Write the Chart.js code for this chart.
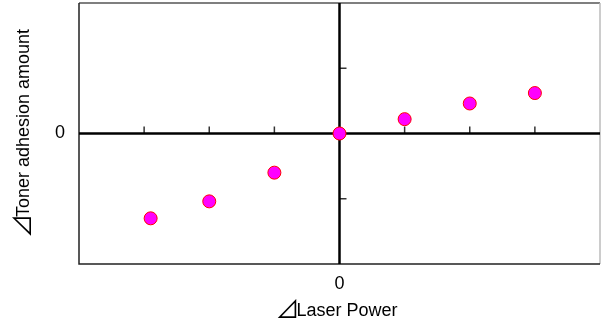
<!DOCTYPE html>
<html>
<head>
<meta charset="utf-8">
<script src="https://cdn.jsdelivr.net/npm/chart.js@4"></script>
<style>
  html, body { margin: 0; padding: 0; background: #fff; }
  #wrap { width: 601px; height: 323px; }
</style>
</head>
<body>
<div id="wrap"><canvas id="c" width="601" height="323"></canvas></div>
<script>
// Data
const laserPower = [-2.9, -2.0, -1.0, 0, 1.0, 2.0, 3.0];
const tonerAdhesion = [-1.30, -1.04, -0.60, 0, 0.22, 0.46, 0.62];
const xMarkTicks = [-3, -2, -1, 1, 2, 3];
const yMarkTicks = [-1, 1];
const deltaSign = '⊿';
const xLabel = 'Laser Power';
const yLabel = 'Toner adhesion amount';

const FONT = { family: '"Liberation Sans", Arial, sans-serif', size: 18 };
const TXT = '18px "Liberation Sans", Arial, sans-serif';
const SYM = '24px "Noto Sans CJK JP", "DejaVu Sans", sans-serif';

function drawTitle(ctx, cx, baseline, rot, sym, text) {
  ctx.save();
  ctx.translate(cx, baseline);
  ctx.rotate(rot);
  ctx.fillStyle = '#000';
  ctx.textBaseline = 'alphabetic';
  ctx.textAlign = 'left';
  ctx.font = SYM;
  const w1 = ctx.measureText(sym).width - 3;
  ctx.font = TXT;
  const w2 = ctx.measureText(text).width;
  const start = -(w1 + w2) / 2;
  ctx.font = SYM;
  ctx.fillText(sym, start, 2);
  ctx.font = TXT;
  ctx.fillText(text, start + w1, 0);
  ctx.restore();
}

const axesPlugin = {
  id: 'zeroAxes',
  beforeDatasetsDraw(chart) {
    const { ctx, chartArea: a, scales: { x, y } } = chart;
    ctx.save();
    // frame
    ctx.lineWidth = 1.5;
    ctx.strokeStyle = '#555';
    ctx.beginPath(); ctx.moveTo(a.left, a.top); ctx.lineTo(a.right, a.top); ctx.stroke();
    ctx.strokeStyle = '#bbb';
    ctx.beginPath(); ctx.moveTo(a.right, a.top); ctx.lineTo(a.right, a.bottom); ctx.stroke();
    ctx.strokeStyle = '#222';
    ctx.beginPath(); ctx.moveTo(a.left, a.top); ctx.lineTo(a.left, a.bottom); ctx.lineTo(a.right, a.bottom); ctx.stroke();

    const x0 = x.getPixelForValue(0);
    const y0 = y.getPixelForValue(0);
    // tick marks
    ctx.strokeStyle = '#333';
    ctx.lineWidth = 1.5;
    xMarkTicks.forEach(v => {
      const px = x.getPixelForValue(v);
      ctx.beginPath(); ctx.moveTo(px, y0); ctx.lineTo(px, y0 - 7); ctx.stroke();
    });
    yMarkTicks.forEach(v => {
      const py = y.getPixelForValue(v);
      ctx.beginPath(); ctx.moveTo(x0, py); ctx.lineTo(x0 + 7, py); ctx.stroke();
    });
    // zero axes
    ctx.strokeStyle = '#000';
    ctx.lineWidth = 2.5;
    ctx.beginPath(); ctx.moveTo(a.left, y0); ctx.lineTo(a.right, y0); ctx.stroke();
    ctx.beginPath(); ctx.moveTo(x0, a.top); ctx.lineTo(x0, a.bottom); ctx.stroke();
    ctx.restore();

    // axis titles
    drawTitle(ctx, (a.left + a.right) / 2 - 3, 316, 0, deltaSign, xLabel);
    drawTitle(ctx, 29, (a.top + a.bottom) / 2, -Math.PI / 2, deltaSign, yLabel);
  }
};

function noPad(s) { s.paddingTop = 0; s.paddingBottom = 0; s.paddingLeft = 0; s.paddingRight = 0; }

new Chart(document.getElementById('c'), {
  type: 'scatter',
  data: {
    datasets: [{
      data: laserPower.map((v, i) => ({ x: v, y: tonerAdhesion[i] })),
      backgroundColor: '#FF00FF',
      borderColor: '#FF0000',
      borderWidth: 1,
      pointRadius: 6.5,
      pointHoverRadius: 6.5
    }]
  },
  options: {
    responsive: false,
    animation: false,
    events: [],
    layout: { autoPadding: false, padding: { top: 3, right: 1, left: 0, bottom: 0 } },
    plugins: { legend: { display: false }, tooltip: { enabled: false } },
    scales: {
      x: {
        type: 'linear', min: -4, max: 4,
        afterFit(s) { s.height = 59; noPad(s); },
        grid: { display: false, drawTicks: false },
        border: { display: false },
        ticks: { stepSize: 1, autoSkip: false, maxRotation: 0, padding: 9, color: '#000', font: FONT,
                 callback: v => (v === 0 ? '0' : '') },
        title: { display: false }
      },
      y: {
        type: 'linear', min: -2, max: 2,
        afterFit(s) { s.width = 79; noPad(s); },
        grid: { display: false, drawTicks: false },
        border: { display: false },
        ticks: { stepSize: 1, autoSkip: false, padding: 14, color: '#000', font: FONT,
                 callback: v => (v === 0 ? '0' : '') },
        title: { display: false }
      }
    }
  },
  plugins: [axesPlugin]
});
</script>
</body>
</html>
